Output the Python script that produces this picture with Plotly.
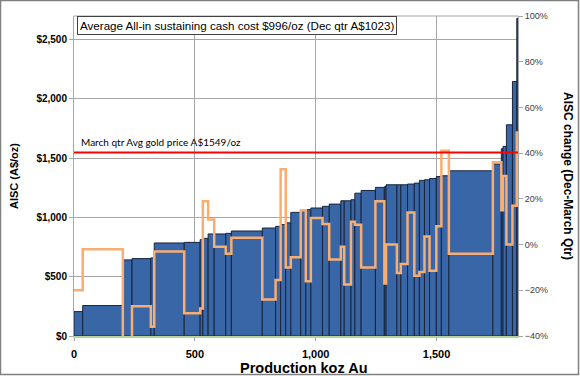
import numpy as np
import plotly.graph_objects as go

# Production (koz Au) per operation, in cost-curve order
production_koz = [36, 166, 38, 78, 14, 124, 66, 11, 22, 25, 48, 23, 128, 55, 21, 21, 21, 41,
                  21, 21, 48, 28, 48, 14, 28, 16, 26, 59, 37, 7, 45, 16, 28, 28, 21, 21, 21,
                  28, 21, 31, 182, 35, 7, 14, 25, 18, 5]
# AISC (A$/oz)
aisc = [206, 257, 642, 653, 659, 785, 790, 813, 824, 861, 861, 866, 886, 911, 925, 940, 955, 1043,
        1060, 1066, 1080, 1094, 1113, 1141, 1141, 1150, 1205, 1228, 1254, 1260, 1276, 1276, 1276,
        1282, 1290, 1313, 1318, 1329, 1346, 1352, 1394, 1451, 1580, 1600, 1782, 2147, 2680]
# AISC change Dec-March qtr (%)
aisc_change = [-20, -2, -42, -27, -36, -3, -30, -28, 19, 11, -1, -4, 3, -24, -15.5, 33, -10, -5.5,
               15, -16, 11.6, 9, -6.5, -1, -17.5, 10, 8.7, -10, 19, -17, 0, -12.4, -8.5,
               14, -13.6, -12, 3.5, -11.4, 8, 41, -4, 36, 15, 30, 0, 17, 49]

gold_price = 1549
avg_text = "Average All-in sustaining cash cost $996/oz (Dec qtr A$1023)"
price_text = "March qtr Avg gold price A$1549/oz"

w = np.array(production_koz, dtype=float)
edges = np.concatenate([[0], np.cumsum(w)])
mids = edges[:-1] + w / 2
total = edges[-1]

fig = go.Figure()
fig.add_trace(go.Bar(
    x=mids, y=aisc, width=w,
    marker=dict(color="#3966a6", line=dict(color="#17253d", width=1)),
    yaxis="y", showlegend=False, hoverinfo="skip"))
fig.add_trace(go.Scatter(
    x=edges, y=aisc_change + [aisc_change[-1]],
    mode="lines", line=dict(color="#f8ad72", width=2.5, shape="hv"),
    yaxis="y2", showlegend=False, hoverinfo="skip"))

font_family = "Liberation Sans, Arial, sans-serif"
fig.update_layout(
    width=580, height=376,
    margin=dict(l=74, r=62, t=16, b=40),
    paper_bgcolor="white", plot_bgcolor="white",
    font=dict(family=font_family, color="black"),
    xaxis=dict(range=[0, total], tickmode="linear", tick0=0, dtick=500, tickformat=",",
               showgrid=True, gridcolor="#a6a6a6", gridwidth=1,
               showline=True, linecolor="#b7d39c", linewidth=1.5,
               ticks="outside", ticklen=3, tickcolor="#a6a6a6", ticklabelstandoff=4,
               tickfont=dict(size=11, weight="bold"), zeroline=False),
    yaxis=dict(range=[0, 2700], tickmode="linear", tick0=0, dtick=500, tickprefix="$",
               tickformat=",", showgrid=True, gridcolor="#a6a6a6", gridwidth=1,
               showline=True, linecolor="#a6a6a6", linewidth=1,
               ticks="outside", ticklen=4, tickcolor="#a6a6a6",
               tickfont=dict(size=10, weight="bold"), zeroline=False),
    yaxis2=dict(range=[-40, 100], tickmode="linear", tick0=-40, dtick=20, ticksuffix="%",
                overlaying="y", side="right", showgrid=False,
                showline=True, linecolor="#a6a6a6", linewidth=1,
                ticks="outside", ticklen=4, tickcolor="#a6a6a6",
                tickfont=dict(size=9, color="#404040"), zeroline=False),
)

# plot border top
fig.add_shape(type="line", xref="paper", yref="paper", x0=0, x1=1, y0=1, y1=1,
              line=dict(color="#a6a6a6", width=1))
# gold price line
fig.add_shape(type="line", xref="paper", yref="y", x0=0, x1=1, y0=gold_price, y1=gold_price,
              line=dict(color="#ff0000", width=2), layer="above")
# outer frame
fig.add_shape(type="rect", xref="paper", yref="paper",
              x0=(0.5 - 74) / 444, x1=(578.5 - 74) / 444,
              y0=(336 - 374.5) / 320, y1=(336 - 0.5) / 320,
              line=dict(color="#808080", width=1.5))

fig.add_annotation(text=avg_text, xref="paper", yref="paper",
                   x=(77 - 74) / 444, y=1.0, xanchor="left", yanchor="top", showarrow=False,
                   font=dict(size=11.6, family=font_family, color="black"),
                   bordercolor="#404040", borderwidth=1, borderpad=2, bgcolor="white")
fig.add_annotation(text=price_text, xref="paper", yref="y",
                   x=(79 - 74) / 444, y=gold_price, xanchor="left", yanchor="bottom",
                   yshift=2, showarrow=False,
                   font=dict(size=10, family="Lato, Open Sans, sans-serif", color="black"))
fig.add_annotation(text="<b>AISC (A$/oz)</b>", xref="paper", yref="paper",
                   x=(14 - 74) / 444, y=0.5, xanchor="center", yanchor="middle",
                   textangle=-90, showarrow=False,
                   font=dict(size=11, family=font_family, color="black"))
fig.add_annotation(text="<b>AISC change (Dec-March Qtr)</b>", xref="paper", yref="paper",
                   x=(568 - 74) / 444, y=0.5, xanchor="center", yanchor="middle",
                   textangle=90, showarrow=False,
                   font=dict(size=12, family=font_family, color="black"))
fig.add_annotation(text="<b>Production koz Au</b>", xref="paper", yref="paper",
                   x=(304 - 74) / 444, y=(336 - 368) / 320, xanchor="center", yanchor="middle",
                   showarrow=False,
                   font=dict(size=14.5, family=font_family, color="black"))

fig.write_html("out.html", config={"displayModeBar": False},
               post_script="document.body.style.margin='0';document.body.style.overflow='hidden';")
